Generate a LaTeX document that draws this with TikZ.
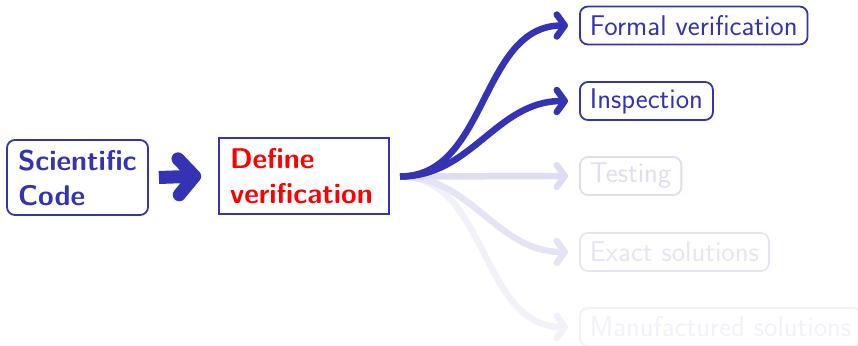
\documentclass[tikz,border=0pt]{standalone}
\usepackage{fontspec}
\usetikzlibrary{arrows.meta,calc}
\definecolor{struct}{RGB}{51,51,179}
\colorlet{fadeA}{struct!16!white}
\colorlet{fadeB}{struct!13!white}
\colorlet{fadeC}{struct!7!white}
\begin{document}
\begin{tikzpicture}[x=1pt,y=-1pt,
  every node/.style={font=\sffamily\fontsize{28.5}{34}\selectfont},
  leftbox/.style={draw=struct, line width=1.8pt, rounded corners=8pt, text=struct,
    font=\sffamily\bfseries\fontsize{28.5}{35}\selectfont, align=left, inner sep=0pt},
  defbox/.style={draw=struct, line width=1.8pt, text=red,
    font=\sffamily\bfseries\fontsize{28.5}{35}\selectfont, align=left, inner sep=0pt},
  methbox/.style={draw=#1, line width=1.8pt, rounded corners=8pt, text=#1,
    anchor=west, inner xsep=10pt, inner ysep=2pt, minimum height=38pt},
  branch/.style={draw=#1, line width=6.5pt,
    -{Straight Barb[round, length=8pt, width=22pt]}},
  bigarrow/.style={draw=struct, line width=13pt,
    -{Straight Barb[round, length=16pt, width=36pt]}}
]
\useasboundingbox (0,0) rectangle (858,345);

% left-hand stages
\node[leftbox, minimum width=141pt, minimum height=75pt, text width=119pt] (code) at (77.5,177.5) {Scientific\\Code};
\node[defbox, minimum width=170pt, minimum height=76pt, text width=148pt] (def) at (304,176) {Define\\verification};
\draw[bigarrow] ($(code.east)+(10pt,0)$) -- ($(def.west)+(-17pt,0)$);

% verification methods
\node[methbox=struct] (formal) at (579,25.5) {Formal verification};
\node[methbox=struct] (insp) at (579,101) {Inspection};
\node[methbox=fadeA] (test) at (579,176) {Testing};
\node[methbox=fadeB] (exact) at (579,252) {Exact solutions};
\node[methbox=fadeC] (manu) at (579,327) {Manufactured solutions};

\coordinate (fork) at (400,176.5);
\draw[branch=fadeC] (fork) to[out=0,in=180] ($(manu.west)+(-11pt,0)$);
\draw[branch=fadeB] (fork) to[out=0,in=180] ($(exact.west)+(-11pt,0)$);
\draw[branch=fadeA] (fork) -- ($(test.west)+(-11pt,0)$);
\draw[branch=struct] (fork) to[out=0,in=180] ($(insp.west)+(-11pt,0)$);
\draw[branch=struct] (fork) to[out=0,in=180] ($(formal.west)+(-11pt,0)$);
\end{tikzpicture}
\end{document}
